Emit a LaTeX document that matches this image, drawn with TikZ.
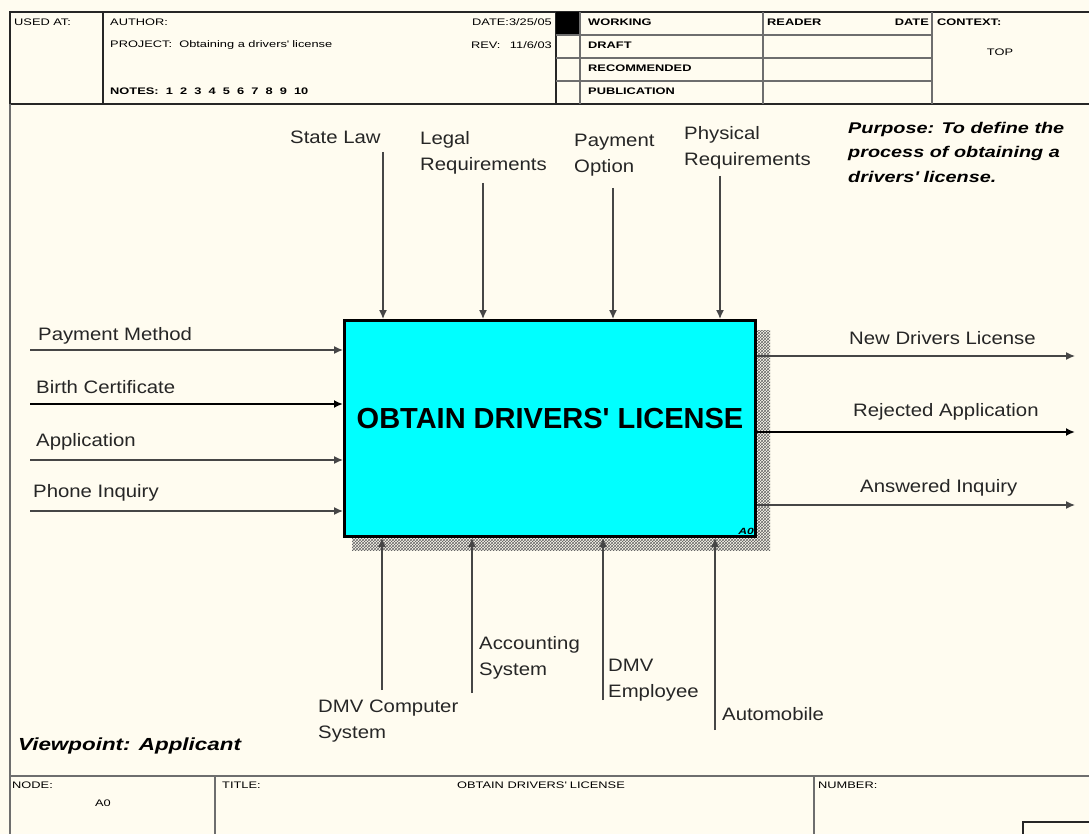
\documentclass[tikz,border=0pt]{standalone}
\usepackage{fontspec}
\setmainfont{Liberation Sans}
\newfontfamily\labfont[FakeStretch=1.13]{Liberation Sans}
\newfontfamily\hdrfont[FakeStretch=1.35]{Liberation Sans}
\newfontfamily\purfont[FakeStretch=1.28]{Liberation Sans}
\usetikzlibrary{arrows.meta,patterns}
\definecolor{bg}{RGB}{255,252,240}
\definecolor{boxcyan}{RGB}{0,255,255}
\definecolor{ln}{RGB}{70,70,70}
\definecolor{frm}{RGB}{110,110,110}
\newcommand{\sq}{\textquotesingle}
\begin{document}
\begin{tikzpicture}[x=1pt,y=-1pt,
  lab/.style={font=\labfont\fontsize{18}{26}\selectfont, text=black!85, inner sep=0, anchor=west, align=left},
  hdr/.style={font=\hdrfont\fontsize{9.5}{11}\selectfont, inner sep=0, anchor=west},
  hdrb/.style={font=\hdrfont\bfseries\fontsize{9.5}{11}\selectfont, inner sep=0, anchor=west},
  pur/.style={font=\purfont\bfseries\itshape\fontsize{15.5}{24.5}\selectfont, inner sep=0, anchor=west, align=left},
  arr/.style={draw=ln, line width=1.4, -{Latex[length=9pt,width=8pt]}},
  arrthick/.style={draw=black, line width=2.4, -{Latex[length=9pt,width=8pt]}},
  thickframe/.style={draw=black!85, line width=2.5},
  thinframe/.style={draw=frm, line width=1.6},
]
\useasboundingbox (0,0) rectangle (1089,834);
\fill[bg] (0,0) rectangle (1089,834);

% ---- header frame ----
\draw[thickframe] (1089,12) -- (10,12) -- (10,104) -- (1089,104);
\draw[thickframe] (103,12) -- (103,104);
\draw[thickframe] (556,12) -- (556,104);
\fill[black] (556,12) rectangle (580,35);
\draw[thinframe] (580,12) -- (580,104);
\draw[thinframe] (763,12) -- (763,104);
\draw[thinframe] (932,12) -- (932,104);
\draw[thinframe] (556,35) -- (932,35);
\draw[thinframe] (556,58) -- (932,58);
\draw[thinframe] (556,81) -- (932,81);

\node[hdr] (usedat) at (14,22) {USED AT:};
\node[hdr] (author) at (110,22) {AUTHOR:};
\node[hdr] (project) at (110,45) {PROJECT:\ \ Obtaining a drivers\sq{} license};
\node[hdrb] (notes) at (110,91) {NOTES:\ \ 1\ \ 2\ \ 3\ \ 4\ \ 5\ \ 6\ \ 7\ \ 8\ \ 9\ \ 10};
\node[hdr, anchor=east] (date) at (552,22) {DATE:3/25/05};
\node[hdr, anchor=east] (rev) at (552,45) {REV:\quad 11/6/03};
\node[hdrb] (working) at (588,22) {WORKING};
\node[hdrb] (draft) at (588,45) {DRAFT};
\node[hdrb] (recom) at (588,68) {RECOMMENDED};
\node[hdrb] (pub) at (588,91) {PUBLICATION};
\node[hdrb] (reader) at (767,22) {READER};
\node[hdrb, anchor=east] (date2) at (929,22) {DATE};
\node[hdrb] (context) at (937,22) {CONTEXT:};
\node[hdr, anchor=center] (top) at (1000,52) {TOP};

% ---- body frame and footer ----
\draw[thinframe] (10,104) -- (10,834);
\draw[thinframe] (10,776) -- (1089,776);
\draw[thinframe] (215,776) -- (215,834);
\draw[thinframe] (814,776) -- (814,834);
\draw[thickframe] (1023,834) -- (1023,822) -- (1089,822);

\node[hdr] (nodelbl) at (12,785) {NODE:};
\node[hdr, anchor=center] (nodeval) at (103,803) {A0};
\node[hdr] (titlelbl) at (222,785) {TITLE:};
\node[hdr, anchor=center] (titleval) at (541,785) {OBTAIN DRIVERS\sq{} LICENSE};
\node[hdr] (numberlbl) at (818,785) {NUMBER:};

% ---- activity box ----
\fill[pattern=crosshatch, pattern color=black!60] (757,330) rectangle (770,550);
\fill[pattern=crosshatch, pattern color=black!60] (352,538) rectangle (757,550);
\node[draw=black, line width=3, fill=boxcyan, minimum width=411pt, minimum height=216pt, inner sep=0] (box) at (550,428.5) {};
\node[font=\bfseries\fontsize{29}{32}\selectfont, inner sep=0] (ttl) at ([yshift=10pt]box.center) {OBTAIN DRIVERS\sq{} LICENSE};
\node[font=\hdrfont\bfseries\itshape\fontsize{9}{10}\selectfont, inner sep=0, anchor=south east] (boxnum) at ([shift={(-3pt,3pt)}]box.south east) {A0};

% ---- controls ----
\coordinate (t1) at (383,152);
\coordinate (t2) at (483,183);
\coordinate (t3) at (613,188);
\coordinate (t4) at (720,176);
\draw[arr] (t1) -- (t1 |- box.north);
\draw[arr] (t2) -- (t2 |- box.north);
\draw[arr] (t3) -- (t3 |- box.north);
\draw[arr] (t4) -- (t4 |- box.north);
\node[lab] (cstate) at (290,137) {State Law};
\node[lab] (clegal) at (420,153) {Legal\\Requirements};
\node[lab] (cpay) at (574,155) {Payment\\Option};
\node[lab] (cphys) at (684,148) {Physical\\Requirements};

% ---- inputs ----
\coordinate (i1) at (30,350);
\coordinate (i2) at (30,404);
\coordinate (i3) at (30,460);
\coordinate (i4) at (30,511);
\draw[arr] (i1) -- (i1 -| box.west);
\draw[arrthick] (i2) -- (i2 -| box.west);
\draw[arr] (i3) -- (i3 -| box.west);
\draw[arr] (i4) -- (i4 -| box.west);
\node[lab] (ipay) at (38,336) {Payment Method};
\node[lab] (ibirth) at (36,387) {Birth Certificate};
\node[lab] (iapp) at (36,442) {Application};
\node[lab] (iphone) at (33,493) {Phone Inquiry};

% ---- outputs ----
\coordinate (o1) at (1075,356);
\coordinate (o2) at (1075,432);
\coordinate (o3) at (1075,505);
\draw[arr] (o1 -| box.east) -- (o1);
\draw[arrthick] (o2 -| box.east) -- (o2);
\draw[arr] (o3 -| box.east) -- (o3);
\node[lab] (onew) at (849,338) {New Drivers License};
\node[lab] (orej) at (853,412) {Rejected Application};
\node[lab] (oans) at (860,488) {Answered Inquiry};

% ---- mechanisms ----
\coordinate (m1) at (382,690);
\coordinate (m2) at (472,693);
\coordinate (m3) at (603,700);
\coordinate (m4) at (715,730);
\draw[arr] (m1) -- (m1 |- box.south);
\draw[arr] (m2) -- (m2 |- box.south);
\draw[arr] (m3) -- (m3 |- box.south);
\draw[arr] (m4) -- (m4 |- box.south);
\node[lab] (mdmv) at (318,721) {DMV Computer\\System};
\node[lab] (macc) at (479,658) {Accounting\\System};
\node[lab] (memp) at (608,680) {DMV\\Employee};
\node[lab] (mauto) at (722,714) {Automobile};

% ---- notes ----
\node[pur] (purpose) at (848,152) {Purpose: To define the\\process of obtaining a\\drivers\sq{} license.};
\node[pur, font=\purfont\bfseries\itshape\fontsize{17.5}{22}\selectfont] (viewpoint) at (18,746) {Viewpoint: Applicant};
\end{tikzpicture}
\end{document}
